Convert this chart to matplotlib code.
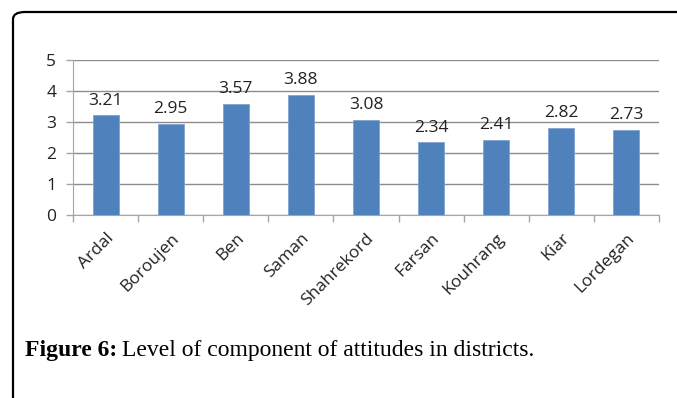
import numpy as np
import matplotlib
matplotlib.use("Agg")
import matplotlib.pyplot as plt
from matplotlib.patches import FancyBboxPatch

districts = ["Ardal", "Boroujen", "Ben", "Saman", "Shahrekord",
             "Farsan", "Kouhrang", "Kiar", "Lordegan"]
levels = [3.21, 2.95, 3.57, 3.88, 3.08, 2.34, 2.41, 2.82, 2.73]
yticks = [0, 1, 2, 3, 4, 5]

W, H = 677, 398
fig = plt.figure(figsize=(W / 100, H / 100), dpi=100)
plt.rcParams['font.family'] = ['Open Sans', 'DejaVu Sans']

# rounded frame, only top and left show
frame = FancyBboxPatch((13 / W, -0.2), 1.2, 1 - 12 / H + 0.2,
                       boxstyle="round,pad=0,rounding_size=0.018",
                       transform=fig.transFigure, fill=False,
                       edgecolor='black', linewidth=1.6, clip_on=False)
fig.patches.append(frame)

ax = fig.add_axes([73 / W, 1 - 215 / H, (659 - 73) / W, (215 - 60) / H])
x = np.arange(len(districts))
bars = ax.bar(x, levels, width=0.4, color='#4F81BD', edgecolor='#7FA3D0',
              linewidth=0.6, zorder=3)
for xi, v in zip(x, levels):
    ax.annotate("%.2f" % v, (xi, v), xytext=(0, 5), textcoords='offset points',
                ha='center', va='bottom', fontsize=12.5, color='#222222')

ax.set_xlim(-0.5, len(districts) - 0.5)
ax.set_ylim(0, 5)
ax.set_yticks(yticks)
ax.yaxis.grid(True, color='#8c8c8c', linewidth=1)
ax.set_axisbelow(True)
for s in ['top', 'right']:
    ax.spines[s].set_visible(False)
ax.spines['left'].set_color('#a6a6a6')
ax.spines['bottom'].set_color('#a6a6a6')
ax.tick_params(axis='y', length=5, width=1, color='#a6a6a6', pad=7,
               labelsize=12.5, labelcolor='#222222')

ax.set_xticks(x)
ax.set_xticklabels(districts, rotation=45, ha='right', rotation_mode='anchor',
                   fontsize=12.5, color='#222222')
ax.set_xticks(np.arange(len(districts) + 1) - 0.5, minor=True)
ax.tick_params(axis='x', which='major', length=0, pad=11)
ax.tick_params(axis='x', which='minor', length=5, width=1, color='#a6a6a6')

t1 = fig.text(25 / W, 1 - 356 / H, "Figure 6:", family='Liberation Serif',
              fontweight='bold', fontsize=17, va='baseline')
fig.canvas.draw()
bb = t1.get_window_extent()
fig.text(bb.x1 / W + 5 / W, 1 - 356 / H,
         "Level of component of attitudes in districts.",
         family='Liberation Serif', fontsize=17, va='baseline')

fig.savefig("out.png", dpi=100)
